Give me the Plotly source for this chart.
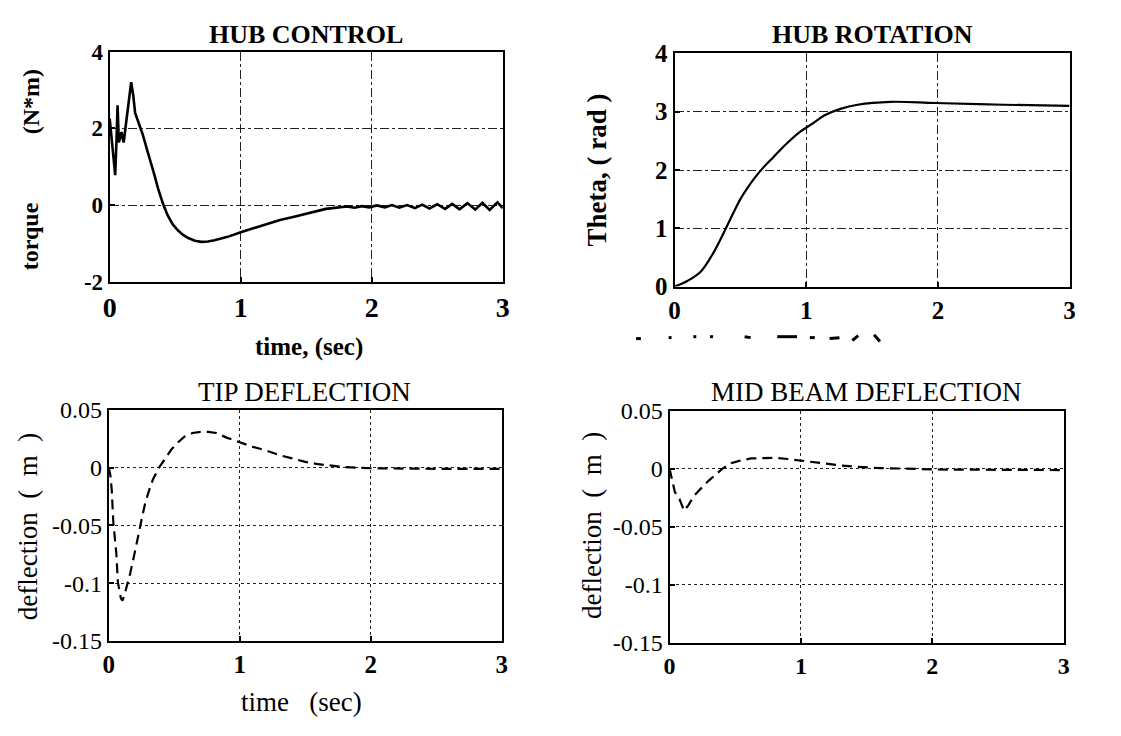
import plotly.graph_objects as go

W, H = 1121, 736

# ---- data -----------------------------------------------------------------
hub_time = [0, 0.01, 0.025, 0.042, 0.052, 0.06, 0.07, 0.08, 0.09, 0.1, 0.107,
            0.12, 0.136, 0.15, 0.164, 0.18, 0.194, 0.22, 0.253, 0.28, 0.311,
            0.34, 0.37, 0.405, 0.44, 0.48, 0.52, 0.56, 0.6, 0.65, 0.7, 0.75,
            0.8, 0.9, 1.0, 1.1, 1.2, 1.3, 1.4, 1.5, 1.6, 1.65, 1.7, 1.75, 1.81,
            1.87, 1.925, 1.98, 2.04, 2.1, 2.155, 2.21, 2.27, 2.33, 2.385, 2.44,
            2.5, 2.56, 2.615, 2.67, 2.73, 2.79, 2.845, 2.9, 2.96, 3.0]
hub_torque = [2.25, 1.9, 1.3, 0.78, 1.7, 2.6, 1.63, 1.8, 1.9, 1.72, 1.63,
              2.0, 2.5, 2.9, 3.2, 2.85, 2.4, 2.15, 1.83, 1.5, 1.17,
              0.8, 0.42, 0.05, -0.25, -0.5, -0.66, -0.78, -0.86, -0.93, -0.96, -0.95,
              -0.92, -0.83, -0.71, -0.6, -0.49, -0.39, -0.31, -0.22, -0.14, -0.1, -0.08, -0.06, -0.04,
              -0.07, -0.03, -0.06, -0.01, -0.06, 0.0, -0.07, 0.0, -0.08, 0.01, -0.09,
              0.02, -0.1, 0.03, -0.11, 0.05, -0.12, 0.06, -0.13, 0.07, -0.08]

rot_time = [0, 0.1, 0.2, 0.3, 0.39, 0.45, 0.5, 0.55, 0.6, 0.665, 0.75, 0.85,
            0.95, 1.05, 1.14, 1.26, 1.39, 1.64, 1.98, 2.5, 3.0]
rot_theta = [0, 0.1, 0.26, 0.6, 1.0, 1.28, 1.5, 1.68, 1.84, 2.02, 2.22, 2.45,
             2.65, 2.8, 2.94, 3.05, 3.12, 3.17, 3.15, 3.12, 3.1]

tip_time = [0, 0.012, 0.023, 0.035, 0.058, 0.07, 0.093, 0.105, 0.12, 0.14,
            0.163, 0.186, 0.21, 0.233, 0.256, 0.28, 0.31, 0.338, 0.384, 0.43,
            0.48, 0.53, 0.58, 0.64, 0.7, 0.76, 0.82, 0.9, 1.0, 1.1, 1.2, 1.3,
            1.4, 1.5, 1.6, 1.7, 1.8, 1.9, 2.0, 2.5, 3.0]
tip_defl = [0, -0.006, -0.019, -0.047, -0.074, -0.099, -0.113, -0.115, -0.11, -0.102,
            -0.092, -0.08, -0.068, -0.055, -0.042, -0.03, -0.019, -0.01, 0.0, 0.008,
            0.016, 0.022, 0.027, 0.03, 0.031, 0.031, 0.03, 0.026, 0.022, 0.018, 0.015, 0.011,
            0.008, 0.005, 0.003, 0.0015, 0.0005, 0.0, -0.0005, -0.001, -0.001]

mid_time = [0, 0.02, 0.04, 0.075, 0.11, 0.145, 0.18, 0.238, 0.296, 0.355, 0.4,
            0.47, 0.55, 0.62, 0.7, 0.8, 0.9, 1.0, 1.1, 1.2, 1.3, 1.4, 1.5,
            1.6, 1.8, 2.0, 2.5, 3.0]
mid_defl = [0, -0.01, -0.02, -0.026, -0.036, -0.031, -0.024, -0.017, -0.0103, -0.0045, 0.0,
            0.005, 0.0075, 0.009, 0.0095, 0.0095, 0.0085, 0.007, 0.0055, 0.004, 0.003, 0.002, 0.0012,
            0.0007, 0.0002, -0.0005, -0.0008, -0.001]

time_ticks = [0, 1, 2, 3]
torque_ticks = [-2, 0, 2, 4]
torque_labels = ["-2", "0", "2", "4"]
theta_ticks = [0, 1, 2, 3, 4]
defl_ticks = [-0.15, -0.1, -0.05, 0, 0.05]
defl_labels = ["-0.15", "-0.1", "-0.05", "0", "0.05"]

SERIF = "Liberation Serif"


def px(x):
    return x / W


def py(y):
    return 1 - y / H


fig = go.Figure()
fig.add_trace(go.Scatter(x=hub_time, y=hub_torque, mode="lines",
                         line=dict(color="black", width=2.6),
                         xaxis="x", yaxis="y", showlegend=False))
fig.add_trace(go.Scatter(x=rot_time, y=rot_theta, mode="lines",
                         line=dict(color="black", width=2.2, shape="spline"),
                         xaxis="x2", yaxis="y2", showlegend=False))
fig.add_trace(go.Scatter(x=tip_time, y=tip_defl, mode="lines",
                         line=dict(color="black", width=2.2, dash="10px,6px"),
                         xaxis="x3", yaxis="y3", showlegend=False))
fig.add_trace(go.Scatter(x=mid_time, y=mid_defl, mode="lines",
                         line=dict(color="black", width=2.2, dash="10px,6px"),
                         xaxis="x4", yaxis="y4", showlegend=False))


def xaxis(dom, anchor, grid_dash, size):
    return dict(domain=dom, anchor=anchor, range=[0, 3], tickvals=time_ticks,
                showline=True, mirror=True, linecolor="black", linewidth=2,
                ticks="inside", ticklen=5, tickwidth=1.5, tickcolor="black",
                showgrid=True, gridcolor="#222", gridwidth=1, griddash=grid_dash,
                zeroline=False, fixedrange=True,
                tickfont=dict(family=SERIF, size=size, color="black", weight="bold"))


def yaxis(dom, anchor, rng, vals, labels, grid_dash, size, weight):
    return dict(domain=dom, anchor=anchor, range=rng, tickvals=vals, ticktext=labels,
                showline=True, mirror=True, linecolor="black", linewidth=2,
                ticks="inside", ticklen=5, tickwidth=1.5, tickcolor="black",
                showgrid=True, gridcolor="#222", gridwidth=1, griddash=grid_dash,
                zeroline=False, fixedrange=True,
                tickfont=dict(family=SERIF, size=size, color="black", weight=weight))


fig.update_layout(
    width=W, height=H, margin=dict(l=0, r=0, t=0, b=0),
    paper_bgcolor="white", plot_bgcolor="white",
    xaxis=xaxis([px(104), px(502)], "y", "dashdot", 28),
    yaxis=yaxis([py(279), py(40)], "x", [-2, 4], torque_ticks, torque_labels, "dashdot", 23, "bold"),
    xaxis2=xaxis([px(676), px(1076)], "y2", "dashdot", 25),
    yaxis2=yaxis([py(284), py(42)], "x2", [0, 4], theta_ticks, [str(v) for v in theta_ticks], "dashdot", 25, "bold"),
    xaxis3=xaxis([px(103), px(501)], "y3", "dot", 25),
    yaxis3=yaxis([py(652), py(412)], "x3", [-0.15, 0.05], defl_ticks, defl_labels, "dot", 24, "normal"),
    xaxis4=xaxis([px(671), px(1070)], "y4", "dot", 24),
    yaxis4=yaxis([py(654), py(413)], "x4", [-0.15, 0.05], defl_ticks, defl_labels, "dot", 24, "normal"),
)


def label(text, x, y, size, bold=False, angle=0):
    fig.add_annotation(text=text, x=px(x), y=py(y), xref="paper", yref="paper",
                       xanchor="center", yanchor="middle", showarrow=False,
                       textangle=angle,
                       font=dict(family=SERIF, size=size, color="black",
                                 weight="bold" if bold else "normal"))


# panel titles
label("HUB CONTROL", 303, 22, 26, bold=True)
label("HUB ROTATION", 876, 22, 26, bold=True)
label("TIP DEFLECTION", 301, 393, 27)
label("MID BEAM DEFLECTION", 870, 393, 27)

# axis titles
label("time, (sec)", 306, 347, 25, bold=True)
label("torque", 24, 232, 24, bold=True, angle=-90)
label("(N*m)", 24, 92, 24, bold=True, angle=-90)
label("Theta, ( rad )", 597, 163, 27, bold=True, angle=-90)
label("deflection  (  m  )", 22, 533, 27, angle=-90)
label("deflection  (  m  )", 593, 532, 27, angle=-90)
label("time   (sec)", 298, 715, 27)

# faint ink marks left beneath the upper right panel
marks = [(637, 338, 642, 338), (670, 337, 673, 337), (695, 336, 698, 336),
         (712, 336, 715, 336), (747, 336, 753, 337), (780, 336, 800, 336),
         (813, 337, 818, 337), (833, 338, 843, 337), (856, 340, 862, 335),
         (878, 334, 884, 341)]
for x0, y0, x1, y1 in marks:
    fig.add_shape(type="line", xref="paper", yref="paper",
                  x0=px(x0), y0=py(y0), x1=px(x1), y1=py(y1),
                  line=dict(color="black", width=3))

fig.write_html("out.html")
